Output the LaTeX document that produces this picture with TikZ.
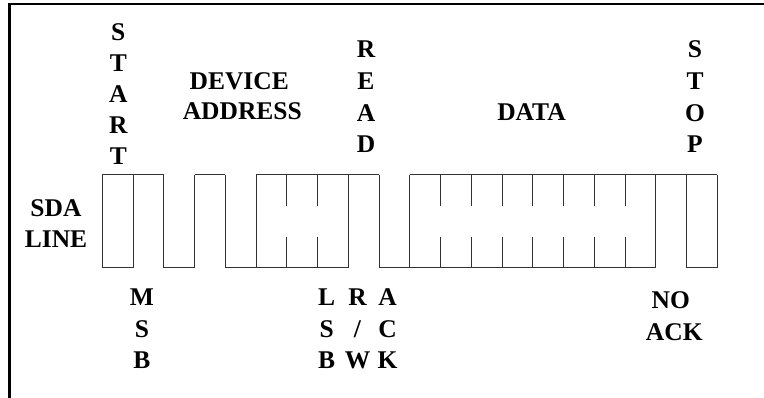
\documentclass[tikz,border=0pt]{standalone}
\usepackage{fontspec}
\setmainfont{Liberation Serif}
\begin{document}
\begin{tikzpicture}[x=1pt,y=-1pt]
\tikzset{
  lbl/.style={font=\fontsize{25.5}{31}\selectfont\bfseries, inner sep=0pt, anchor=base},
  wave/.style={line width=1pt, draw=black!80},
  frame/.style={line width=2.5pt, draw=black}
}
\useasboundingbox (0,0) rectangle (764,398);
\fill[white] (0,0) rectangle (764,398);
% frame (left and top edges)
\draw[frame] (9.5,398) -- (9.5,4) -- (764,4);
% waveform geometry
\def\T{174.7}
\def\B{267.7}
\def\HT{206}
\def\HB{236.7}
\newcommand{\X}[1]{\fpeval{102.3+30.75*#1}}
% top lines
\foreach \a/\b in {0/2,3/4,5/9,10/20}
  \draw[wave] (\X{\a},\T) -- (\X{\b},\T);
% bottom lines
\foreach \a/\b in {0/1,2/3,4/8,9/18,19/20}
  \draw[wave] (\X{\a},\B) -- (\X{\b},\B);
% full verticals
\foreach \k in {0,1,2,3,4,5,8,9,10,18,19,20}
  \draw[wave] (\X{\k},\T) -- (\X{\k},\B);
% half verticals (bit separators)
\foreach \k in {6,7,11,12,13,14,15,16,17} {
  \draw[wave] (\X{\k},\T) -- (\X{\k},\HT);
  \draw[wave] (\X{\k},\HB) -- (\X{\k},\B);
}
% START
\foreach \c [count=\i from 0] in {S,T,A,R,T}
  \node[lbl] (start\i) at (118.3,{40.5+30.9*\i}) {\c};
% DEVICE ADDRESS
\node[lbl] (device) at (239.2,90) {DEVICE};
\node[lbl] (address) at (242.3,120) {ADDRESS};
% READ
\foreach \c [count=\i from 0] in {R,E,A,D}
  \node[lbl] (read\i) at (366,{57.5+31.77*\i}) {\c};
% DATA
\node[lbl] (data) at (531.5,121) {DATA};
% STOP
\foreach \c [count=\i from 0] in {S,T,O,P}
  \node[lbl] (stop\i) at (695,{57.5+31.77*\i}) {\c};
% SDA LINE
\node[lbl] (sda) at (56,217) {SDA};
\node[lbl] (line) at (56,248) {LINE};
% MSB
\foreach \c [count=\i from 0] in {M,S,B}
  \node[lbl] (msb\i) at (142,{306+31.5*\i}) {\c};
% LSB
\foreach \c [count=\i from 0] in {L,S,B}
  \node[lbl] (lsb\i) at (326.7,{306+31.5*\i}) {\c};
% R/W
\foreach \c [count=\i from 0] in {R,/,W}
  \node[lbl] (rw\i) at (357.5,{306+31.5*\i}) {\c};
% ACK
\foreach \c [count=\i from 0] in {A,C,K}
  \node[lbl] (ack\i) at (387.5,{306+31.5*\i}) {\c};
% NO ACK
\node[lbl] (no) at (670.8,309) {NO};
\node[lbl] (noack) at (674.3,340.5) {ACK};
\end{tikzpicture}
\end{document}
